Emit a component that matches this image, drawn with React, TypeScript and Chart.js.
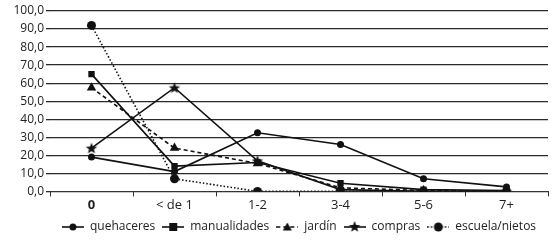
import React, { useEffect, useRef } from "react";
import { Chart, registerables } from "chart.js";

Chart.register(...registerables);

const categories = ["0", "< de 1", "1-2", "3-4", "5-6", "7+"];
const quehaceres = [19, 11, 32.5, 26, 7, 2.5];
const manualidades = [65, 14, 16, 4.5, 1, 0.5];
const jardin = [57.5, 24, 15.5, 2, 0.5, 0];
const compras = [24, 57.5, 17, 1, 0, 0];
const escuela = [92, 7, 0, 0, 0, 0];
const seriesNames = ["quehaceres", "manualidades", "jardín", "compras", "escuela/nietos"];

type Marker = "circle" | "rect" | "triangle" | "star" | "bigcircle";

function drawMarker(ctx: CanvasRenderingContext2D, m: Marker, cx: number, cy: number) {
  ctx.fillStyle = "#111";
  ctx.beginPath();
  if (m === "circle") {
    ctx.arc(cx, cy, 3.5, 0, Math.PI * 2);
  } else if (m === "bigcircle") {
    ctx.arc(cx, cy, 4.5, 0, Math.PI * 2);
  } else if (m === "rect") {
    ctx.rect(cx - 4, cy - 4, 8, 8);
  } else if (m === "triangle") {
    ctx.moveTo(cx, cy - 4.5);
    ctx.lineTo(cx + 4.5, cy + 3.5);
    ctx.lineTo(cx - 4.5, cy + 3.5);
    ctx.closePath();
  } else {
    const R = 6, r = 2.6;
    for (let i = 0; i < 10; i++) {
      const a = -Math.PI / 2 + (i * Math.PI) / 5;
      const rr = i % 2 === 0 ? R : r;
      const x = cx + rr * Math.cos(a), y = cy + rr * Math.sin(a);
      if (i === 0) ctx.moveTo(x, y); else ctx.lineTo(x, y);
    }
    ctx.closePath();
  }
  ctx.fill();
}

function starImage(): HTMLCanvasElement {
  const c = document.createElement("canvas");
  c.width = 14; c.height = 14;
  const ctx = c.getContext("2d")!;
  drawMarker(ctx, "star", 7, 7.5);
  return c;
}

function legendImage(m: Marker, dash: number[]): HTMLCanvasElement {
  const c = document.createElement("canvas");
  c.width = 22; c.height = 12;
  const ctx = c.getContext("2d")!;
  ctx.strokeStyle = "#111";
  ctx.lineWidth = 1.6;
  ctx.setLineDash(dash);
  ctx.beginPath();
  ctx.moveTo(0, 6);
  ctx.lineTo(22, 6);
  ctx.stroke();
  ctx.setLineDash([]);
  drawMarker(ctx, m, 11, 6);
  return c;
}

export default function App() {
  const ref = useRef<HTMLCanvasElement | null>(null);
  useEffect(() => {
    document.body.style.margin = "0";
    const star = starImage();
    const markers: Marker[] = ["circle", "rect", "triangle", "star", "bigcircle"];
    const dashes = [[], [], [4, 3], [], [1.5, 2]];
    const legendImgs = markers.map((m, i) => legendImage(m, dashes[i]));
    const values = [quehaceres, manualidades, jardin, compras, escuela];
    const pstyles: any[] = ["circle", "rect", "triangle", star, "circle"];
    const radii = [3.5, 4.5, 5.5, 6, 4.5];
    const datasets = values.map((v, i) => ({
      label: seriesNames[i],
      data: v,
      borderColor: "#111",
      backgroundColor: "#111",
      borderWidth: 1.6,
      borderDash: dashes[i],
      pointStyle: pstyles[i],
      pointRadius: radii[i],
      pointBorderWidth: 0,
      pointBackgroundColor: "#111",
      tension: 0,
    }));
    const font = "'Open Sans', 'Noto Sans', sans-serif";
    const chart = new Chart(ref.current!, {
      type: "line",
      data: { labels: categories, datasets },
      options: {
        animation: false,
        responsive: false,
        layout: { padding: { top: 11, right: 1, left: 0, bottom: 0 } },
        plugins: {
          tooltip: { enabled: false },
          legend: {
            position: "bottom",
            fullSize: false,
            labels: {
              usePointStyle: true,
              pointStyleWidth: 22,
              color: "#222",
              font: { family: font, size: 12 },
              padding: 7,
              generateLabels: (ch: any) =>
                ch.data.datasets.map((d: any, i: number) => ({
                  text: d.label,
                  pointStyle: legendImgs[i],
                  fillStyle: "#111",
                  strokeStyle: "#111",
                  lineWidth: 0,
                  hidden: false,
                  datasetIndex: i,
                  fontColor: "#222",
                })),
            },
          },
        },
        scales: {
          x: {
            offset: true,
            grid: { display: true, drawOnChartArea: false, offset: true, color: "#333", tickLength: 5 },
            border: { display: true, color: "#333", width: 1 },
            ticks: {
              color: "#222",
              padding: 1,
              font: (c: any) => ({ family: font, size: 13, weight: c.index === 0 ? "bold" : "normal" }),
            },
          },
          y: {
            min: 0,
            max: 100,
            grid: { color: "#2a2a2a", lineWidth: 1.3, tickLength: 4 },
            border: { display: false },
            ticks: {
              stepSize: 10,
              autoSkip: false,
              color: "#222",
              padding: 2,
              font: { family: font, size: 12 },
              callback: (v: any) => Number(v).toFixed(1).replace(".", ","),
            },
            afterFit: (s: any) => { s.width = 50; },
          },
        },
      },
    });
    return () => chart.destroy();
  }, []);
  return (
    <div style={{ width: 554, height: 243 }}>
      <canvas ref={ref} width={554} height={243} style={{ display: "block" }} />
    </div>
  );
}
